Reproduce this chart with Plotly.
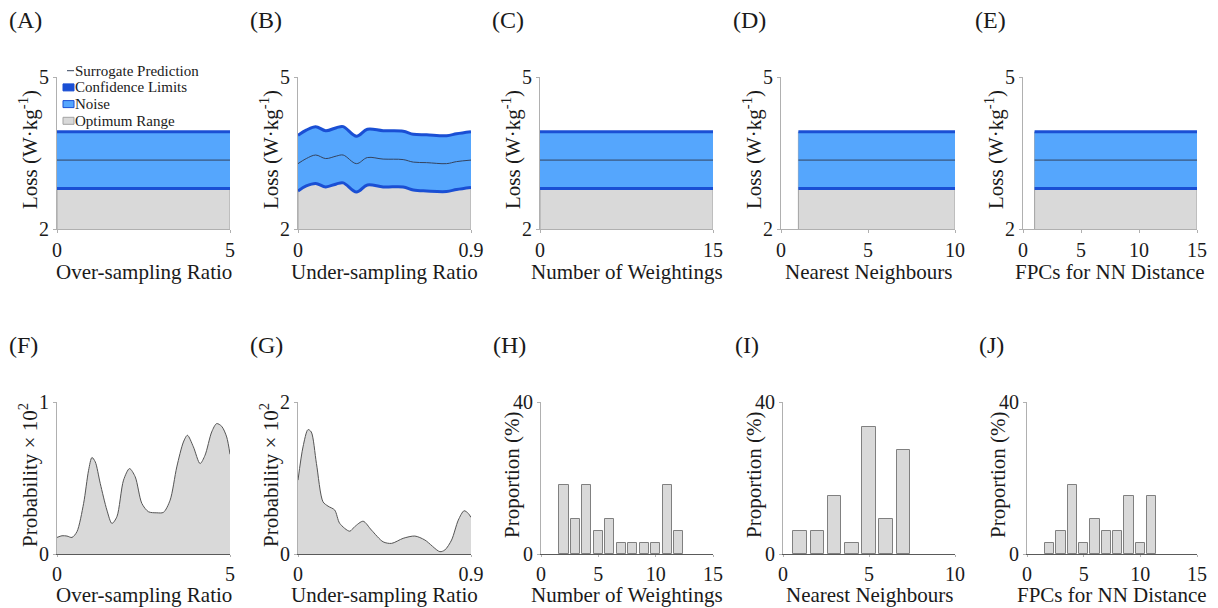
import plotly.graph_objects as go

W, H = 1218, 608
FONT = "Liberation Serif, Times New Roman, serif"

# ---- surrogate model panels (A-E): loss vs. hyper-parameter ----
a_x = [0, 5]
a_mean = [3.36, 3.36]
a_upper = [3.92, 3.92]
a_lower = [2.80, 2.80]

b_x = [0, 0.043, 0.092, 0.144, 0.200, 0.235, 0.304, 0.361, 0.443, 0.547, 0.600, 0.669, 0.773, 0.825, 0.9]
b_upper = [3.85, 3.95, 4.02, 3.94, 4.00, 4.02, 3.83, 3.97, 3.94, 3.93, 3.87, 3.86, 3.84, 3.88, 3.92]
b_mean = [3.29, 3.39, 3.46, 3.39, 3.44, 3.46, 3.29, 3.41, 3.38, 3.37, 3.32, 3.31, 3.29, 3.33, 3.36]
b_lower = [2.75, 2.85, 2.90, 2.83, 2.89, 2.91, 2.73, 2.87, 2.83, 2.83, 2.77, 2.75, 2.74, 2.78, 2.82]

c_x = [0, 15]
c_mean = [3.36, 3.36]
c_upper = [3.92, 3.92]
c_lower = [2.80, 2.80]

d_x = [1, 10]
d_mean = [3.36, 3.36]
d_upper = [3.92, 3.92]
d_lower = [2.80, 2.80]

e_x = [1, 15]
e_mean = [3.36, 3.36]
e_upper = [3.92, 3.92]
e_lower = [2.80, 2.80]

# ---- probability densities (F, G) ----
f_x = [0, 0.144, 0.288, 0.433, 0.577, 0.769, 0.913, 1.01, 1.106, 1.25, 1.442, 1.587, 1.731,
       1.923, 2.096, 2.26, 2.452, 2.644, 2.885, 3.077, 3.269, 3.462, 3.654, 3.769, 3.942,
       4.135, 4.279, 4.471, 4.615, 4.76, 4.904, 5.0]
f_y = [0.109, 0.12, 0.118, 0.109, 0.147, 0.333, 0.551, 0.635, 0.606, 0.464, 0.289, 0.201, 0.245,
       0.486, 0.562, 0.508, 0.333, 0.278, 0.271, 0.274, 0.354, 0.573, 0.737, 0.781, 0.705,
       0.595, 0.65, 0.803, 0.858, 0.84, 0.77, 0.656]

g_x = [0, 0.026, 0.052, 0.069, 0.096, 0.130, 0.156, 0.191, 0.217, 0.269, 0.295, 0.339, 0.382,
       0.443, 0.487, 0.547, 0.608, 0.660, 0.738, 0.764, 0.799, 0.834, 0.864, 0.886, 0.9]
g_y = [0.972, 1.409, 1.637, 1.606, 1.19, 0.687, 0.63, 0.578, 0.403, 0.30, 0.36, 0.431, 0.315,
       0.16, 0.14, 0.206, 0.236, 0.184, 0.031, 0.053, 0.184, 0.446, 0.569, 0.534, 0.481]

# ---- selection proportions (H, I, J) ----
h_x = [2, 3, 4, 5, 6, 7, 8, 9, 10, 11, 12]
h_y = [18.2, 9.1, 18.2, 6.1, 9.1, 3.0, 3.0, 3.0, 3.0, 18.2, 6.1]

i_x = [1, 2, 3, 4, 5, 6, 7]
i_y = [6.1, 6.1, 15.2, 3.0, 33.3, 9.1, 27.3]

j_x = [2, 3, 4, 5, 6, 7, 8, 9, 10, 11]
j_y = [3.0, 6.1, 18.2, 3.0, 9.1, 6.1, 6.1, 15.2, 3.0, 15.2]

panel_letters = ["(A)", "(B)", "(C)", "(D)", "(E)", "(F)", "(G)", "(H)", "(I)", "(J)"]
x_titles = ["Over-sampling Ratio", "Under-sampling Ratio", "Number of Weightings",
            "Nearest Neighbours", "FPCs for NN Distance"] * 2
loss_title = "Loss (W·kg<sup>-1</sup>)"
prob_title = "Probability × 10<sup>2</sup>"
prop_title = "Proportion (%)"

GRAY = "#d9d9d9"
GRAY_EDGE = "#a3a3a3"
NOISE = "#55a6fd"
CI = "#1a4fd4"
MEAN = "#34435e"
AXIS = "#b0b0b0"
TEXT = "#1a1a1a"

# pixel boxes of each plotting area
top_cols = [(57, 230), (298, 471), (540, 713), (781, 955), (1023, 1197)]
bot_cols = [(57, 230), (298, 471), (541, 713), (783, 955), (1027, 1197)]
top_rows = (77, 229)
bot_rows = (402, 554)


def px(v):
    return v / W


def py(v):
    return 1 - v / H


fig = go.Figure()


def add_surrogate(idx, xs, lo, mid, hi, shape, ymin):
    xa, ya = f"x{idx}", f"y{idx}"
    fig.add_trace(go.Scatter(x=xs, y=lo, mode="lines", fill="tozeroy", fillcolor=GRAY,
                             line=dict(width=0, shape=shape), xaxis=xa, yaxis=ya,
                             showlegend=False, hoverinfo="skip"))
    fig.add_trace(go.Scatter(x=[xs[0], xs[0], None, xs[-1], xs[-1]],
                             y=[ymin, hi[0], None, ymin, hi[-1]], mode="lines",
                             line=dict(color=GRAY_EDGE, width=1), xaxis=xa, yaxis=ya,
                             showlegend=False, hoverinfo="skip"))
    fig.add_trace(go.Scatter(x=xs, y=lo, mode="lines", line=dict(width=0, shape=shape),
                             xaxis=xa, yaxis=ya, showlegend=False, hoverinfo="skip"))
    fig.add_trace(go.Scatter(x=xs, y=hi, mode="lines", fill="tonexty", fillcolor=NOISE,
                             line=dict(width=0, shape=shape), xaxis=xa, yaxis=ya,
                             showlegend=False, hoverinfo="skip"))
    for band in (lo, hi):
        fig.add_trace(go.Scatter(x=xs, y=band, mode="lines",
                                 line=dict(color=CI, width=3, shape=shape),
                                 xaxis=xa, yaxis=ya, showlegend=False))
    fig.add_trace(go.Scatter(x=xs, y=mid, mode="lines",
                             line=dict(color=MEAN, width=1, shape=shape),
                             xaxis=xa, yaxis=ya, showlegend=False))


add_surrogate(1, a_x, a_lower, a_mean, a_upper, "linear", 2)
add_surrogate(2, b_x, b_lower, b_mean, b_upper, "spline", 2)
add_surrogate(3, c_x, c_lower, c_mean, c_upper, "linear", 2)
add_surrogate(4, d_x, d_lower, d_mean, d_upper, "linear", 2)
add_surrogate(5, e_x, e_lower, e_mean, e_upper, "linear", 2)

for idx, xs, ys in ((6, f_x, f_y), (7, g_x, g_y)):
    fig.add_trace(go.Scatter(x=xs, y=ys, mode="lines", fill="tozeroy", fillcolor=GRAY,
                             line=dict(color="#555555", width=1, shape="spline", smoothing=0.8),
                             xaxis=f"x{idx}", yaxis=f"y{idx}", showlegend=False))

for idx, xs, ys in ((8, h_x, h_y), (9, i_x, i_y), (10, j_x, j_y)):
    fig.add_trace(go.Bar(x=xs, y=ys, width=0.8, marker=dict(color=GRAY,
                         line=dict(color="#808080", width=1)),
                         xaxis=f"x{idx}", yaxis=f"y{idx}", showlegend=False))

x_ranges = [[0, 5], [0, 0.9], [0, 15], [0, 10], [0, 15],
            [0, 5], [0, 0.9], [0, 15], [0, 10], [0, 15]]
x_ticks = [[0, 5], [0, 0.9], [0, 15], [0, 5, 10], [0, 5, 10, 15],
           [0, 5], [0, 0.9], [0, 5, 10, 15], [0, 5, 10], [0, 5, 10, 15]]
y_ranges = [[2, 5]] * 5 + [[0, 1], [0, 2], [0, 40], [0, 40], [0, 40]]
y_ticks = [[2, 5]] * 5 + [[0, 1], [0, 2], [0, 40], [0, 40], [0, 40]]
y_titles = [loss_title] * 5 + [prob_title, prob_title, prop_title, prop_title, prop_title]

tick_font = dict(family=FONT, size=20, color=TEXT)
annotations = []
layout_axes = {}
for k in range(10):
    idx = k + 1
    top = k < 5
    x0, x1 = (top_cols if top else bot_cols)[k % 5]
    y0, y1 = top_rows if top else bot_rows
    xline = AXIS if top else "#5a5a5a"
    layout_axes[f"xaxis{idx}"] = dict(
        domain=[px(x0), px(x1)], range=x_ranges[k], anchor=f"y{idx}",
        tickvals=x_ticks[k], showline=True, linecolor=xline, linewidth=1,
        ticks="outside", ticklen=3 if top else 2, tickcolor=AXIS, showgrid=False,
        zeroline=False, tickfont=tick_font, fixedrange=True, automargin=False)
    layout_axes[f"yaxis{idx}"] = dict(
        domain=[py(y1), py(y0)], range=y_ranges[k], anchor=f"x{idx}",
        tickvals=y_ticks[k], showline=True, linecolor=AXIS, linewidth=1,
        ticks="outside", ticklen=3, tickcolor=AXIS, showgrid=False, zeroline=False,
        tickfont=tick_font, fixedrange=True, automargin=False)
    # panel letter
    annotations.append(dict(text=panel_letters[k], x=px(x0 - 49), y=py(20 if top else 345),
                            xref="paper", yref="paper", xanchor="left", yanchor="middle",
                            showarrow=False, borderpad=0,
                            font=dict(family=FONT, size=24, color=TEXT)))
    # x title
    annotations.append(dict(text=x_titles[k], x=px((x0 + x1) / 2),
                            y=py(y1 + (43 if top else 41)),
                            xref="paper", yref="paper", xanchor="center", yanchor="middle",
                            showarrow=False, borderpad=0,
                            font=dict(family=FONT, size=21, color=TEXT)))
    # y title
    annotations.append(dict(text=y_titles[k], x=px(x0 - 29), y=py((y0 + y1) / 2 - 3),
                            xref="paper", yref="paper", xanchor="center", yanchor="middle",
                            textangle=-90, showarrow=False, borderpad=0,
                            font=dict(family=FONT, size=21, color=TEXT)))

# key drawn inside panel A
key_items = [("Surrogate Prediction", "line", MEAN, MEAN),
             ("Confidence Limits", "box", CI, CI),
             ("Noise", "box", NOISE, CI),
             ("Optimum Range", "box", GRAY, GRAY_EDGE)]
shapes = []
for n, (label, kind, fill, edge) in enumerate(key_items):
    yc = 70.7 + n * 16.7
    if kind == "line":
        shapes.append(dict(type="line", xref="paper", yref="paper",
                           x0=px(67), x1=px(74), y0=py(yc), y1=py(yc),
                           line=dict(color=fill, width=1)))
    else:
        shapes.append(dict(type="rect", xref="paper", yref="paper",
                           x0=px(63), x1=px(74), y0=py(yc + 3.5), y1=py(yc - 3.5),
                           fillcolor=fill, line=dict(color=edge, width=1)))
    annotations.append(dict(text=label, x=px(74), y=py(yc), xref="paper", yref="paper",
                            xanchor="left", yanchor="middle", showarrow=False, borderpad=0,
                            font=dict(family=FONT, size=15, color=TEXT)))

fig.update_layout(
    width=W, height=H, autosize=False,
    margin=dict(l=0, r=0, t=0, b=0, pad=0, autoexpand=False),
    paper_bgcolor="white", plot_bgcolor="white",
    font=dict(family=FONT, color=TEXT),
    showlegend=False, bargap=0,
    annotations=annotations, shapes=shapes,
    **layout_axes,
)

fig.write_html("out.html")
